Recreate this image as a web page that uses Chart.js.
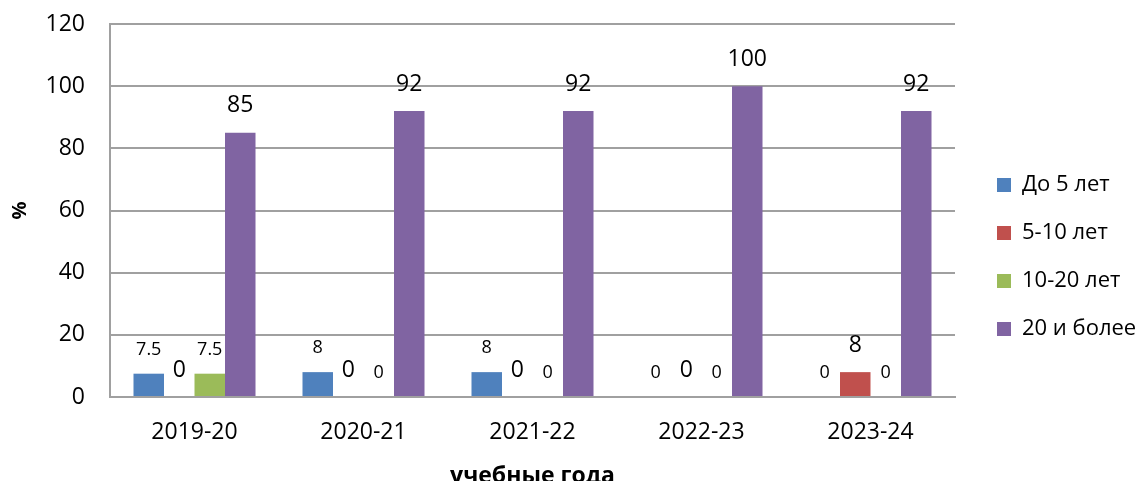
<!DOCTYPE html>
<html lang="ru">
<head>
<meta charset="utf-8">
<title>Стаж</title>
<script src="https://cdn.jsdelivr.net/npm/chart.js@4/dist/chart.umd.min.js"></script>
<style>
  html, body { margin: 0; padding: 0; background: #fff; }
  #wrap { width: 1143px; height: 481px; }
</style>
</head>
<body>
<div id="wrap"><canvas id="myChart" width="1143" height="481"></canvas></div>
<script>
// categories and series
const years = ["2019-20", "2020-21", "2021-22", "2022-23", "2023-24"];
const seriesNames = ["До 5 лет", "5-10 лет", "10-20 лет", "20 и более"];
const upTo5 = [7.5, 8, 8, 0, 0];
const from5to10 = [0, 0, 0, 0, 8];
const from10to20 = [7.5, 0, 0, 0, 0];
const over20 = [85, 92, 92, 100, 92];
const yTicks = [0, 20, 40, 60, 80, 100, 120];

const colors = ["#4F81BD", "#C0504D", "#9BBB59", "#8064A2"];
// big labels for the 2nd and 4th series, small for the others
const labelSizes = [18, 23, 18, 23];
const labelGaps = [24, 27, 24, 27];
const font = "'Open Sans', 'Noto Sans', sans-serif";
const gridGray = "#a0a0a0";

// value labels above each bar
const barLabels = {
  id: "barLabels",
  afterDatasetsDraw(chart) {
    const ctx = chart.ctx;
    ctx.save();
    ctx.fillStyle = "#000";
    ctx.textAlign = "center";
    ctx.textBaseline = "middle";
    chart.data.datasets.forEach((ds, i) => {
      const meta = chart.getDatasetMeta(i);
      ctx.font = labelSizes[i] + "px " + font;
      meta.data.forEach((bar, j) => {
        ctx.fillText(String(ds.data[j]), bar.x, bar.y - labelGaps[i]);
      });
    });
    ctx.restore();
  },
};

// keep the legend at a fixed width and place it like the original
const legendPlace = {
  id: "legendPlace",
  beforeUpdate(chart) {
    const lg = chart.legend;
    if (lg && !lg._patched) {
      const fit = lg.fit.bind(lg);
      lg.fit = function () {
        fit();
        this.width = 188;
      };
      lg._patched = true;
    }
  },
  afterLayout(chart) {
    const lg = chart.legend;
    if (!lg) return;
    lg.left = 971;
    lg.right = 971 + 172;
    lg.top = 148;
    lg.bottom = 481;
  },
};

const ctx = document.getElementById("myChart").getContext("2d");
const myChart = new Chart(ctx, {
  type: "bar",
  data: {
    labels: years,
    datasets: [upTo5, from5to10, from10to20, over20].map((d, i) => ({
      label: seriesNames[i],
      data: d,
      backgroundColor: colors[i],
      borderWidth: 0,
      categoryPercentage: 0.722,
      barPercentage: 1,
    })),
  },
  options: {
    responsive: false,
    animation: false,
    devicePixelRatio: 1,
    layout: { padding: { top: 24, left: 0, right: 0, bottom: 0 } },
    plugins: {
      tooltip: { enabled: false },
      legend: {
        position: "right",
        align: "start",
        labels: {
          boxWidth: 14,
          boxHeight: 14,
          padding: 26,
          color: "#000",
          font: { family: font, size: 22 },
        },
      },
    },
    scales: {
      x: {
        grid: { display: false, drawTicks: false },
        border: { display: true, color: gridGray, width: 2 },
        ticks: { color: "#000", padding: 22, font: { family: font, size: 23 } },
        title: {
          display: true,
          text: "учебные года",
          color: "#000",
          font: { family: font, size: 23, weight: "bold" },
          padding: { top: 0, bottom: -9 },
        },
        afterFit(scale) {
          scale.height = 84;
        },
      },
      y: {
        min: 0,
        max: 120,
        afterBuildTicks(scale) {
          scale.ticks = yTicks.map((v) => ({ value: v }));
        },
        // invisible tick marks give the gap between labels and axis
        grid: { color: gridGray, lineWidth: 2, drawTicks: true, tickLength: 25, tickColor: "rgba(0,0,0,0)" },
        border: { display: true, color: gridGray, width: 2 },
        ticks: { color: "#000", padding: 0, font: { family: font, size: 23 } },
        title: {
          display: true,
          text: "%",
          color: "#000",
          font: { family: font, size: 20, weight: "bold" },
          padding: { top: 8, bottom: 0 },
        },
        afterFit(scale) {
          scale.width = 110;
        },
      },
    },
  },
  plugins: [barLabels, legendPlace],
});
</script>
</body>
</html>
